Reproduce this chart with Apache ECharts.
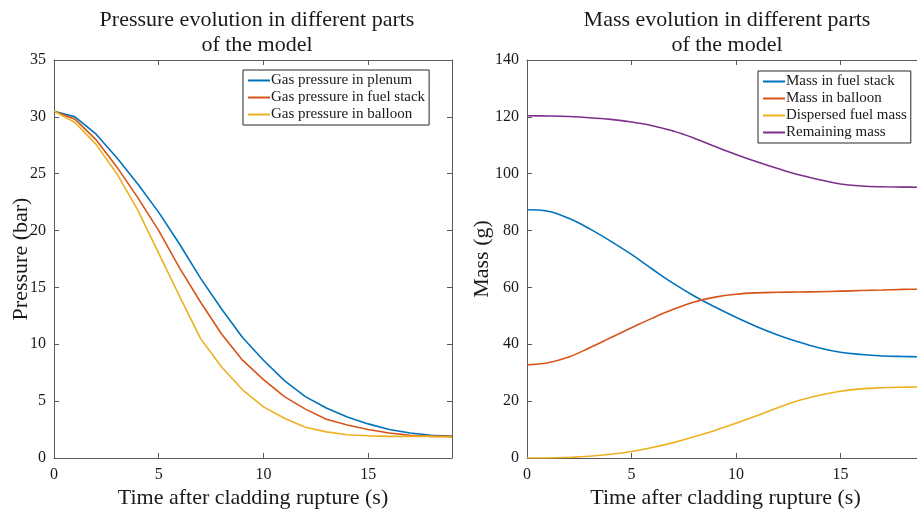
<!DOCTYPE html>
<html>
<head>
<meta charset="utf-8">
<script src="https://cdn.jsdelivr.net/npm/echarts@6/dist/echarts.min.js"></script>
<style>
  html, body { margin: 0; padding: 0; background: #fff; }
  #chart { width: 917px; height: 509px; }
</style>
</head>
<body>
<div id="chart"></div>
<script>
// Time after cladding rupture (s)
const time = [0, 1, 2, 3, 4, 5, 6, 7, 8, 9, 10, 11, 12, 13, 14, 15, 16, 17, 18, 19];

// Pressure (bar)
const pPlenum    = [30.5, 30.0, 28.5, 26.4, 24.1, 21.6, 18.8, 15.8, 13.1, 10.6, 8.6, 6.8, 5.4, 4.4, 3.6, 3.0, 2.5, 2.2, 2.0, 1.9];
const pFuelStack = [30.5, 29.8, 28.0, 25.6, 22.9, 20.0, 16.7, 13.7, 10.9, 8.6, 6.9, 5.4, 4.3, 3.4, 2.9, 2.5, 2.2, 2.0, 1.9, 1.9];
const pBalloon   = [30.5, 29.5, 27.6, 25.0, 21.8, 18.0, 14.2, 10.5, 8.0, 6.0, 4.5, 3.5, 2.7, 2.3, 2.05, 1.95, 1.9, 1.9, 1.9, 1.85];

// Mass (g)
const mFuelStack = [87.3, 86.8, 84.3, 80.6, 76.3, 71.6, 66.4, 61.4, 57.0, 53.1, 49.5, 46.2, 43.3, 40.8, 38.7, 37.2, 36.4, 35.9, 35.7, 35.6];
const mBalloon   = [32.8, 33.5, 35.5, 38.8, 42.3, 45.8, 49.2, 52.3, 54.9, 56.6, 57.6, 58.1, 58.3, 58.4, 58.5, 58.7, 58.9, 59.1, 59.3, 59.4];
const mDispersed = [0, 0.0, 0.2, 0.6, 1.3, 2.3, 3.7, 5.4, 7.5, 9.7, 12.2, 14.9, 17.7, 20.2, 22.1, 23.5, 24.3, 24.7, 24.9, 25.0];
const mRemaining = [120.4, 120.3, 120.1, 119.7, 119.1, 118.2, 116.9, 115.0, 112.5, 109.6, 106.8, 104.2, 101.8, 99.6, 97.9, 96.4, 95.7, 95.4, 95.3, 95.2];

const leftNames  = ['Gas pressure in plenum', 'Gas pressure in fuel stack', 'Gas pressure in balloon'];
const rightNames = ['Mass in fuel stack', 'Mass in balloon', 'Dispersed fuel mass', 'Remaining mass'];

const colors = ['#0072BD', '#D95319', '#EDB120', '#7E2F8E'];
const FONT = '"Liberation Serif", "Times New Roman", serif';
const TEXT = '#1a1a1a';
const FRAME = '#5a5a5a';

const pairs = vals => time.map((t, i) => [t, vals[i]]);

function xAx(grid, top) {
  return {
    type: 'value', gridIndex: grid, position: top ? 'top' : 'bottom',
    min: 0, max: 19, interval: 5,
    name: top ? '' : 'Time after cladding rupture (s)',
    nameLocation: 'middle', nameGap: 29, nameMoveOverlap: false,
    nameTextStyle: { fontFamily: FONT, fontSize: 22, color: TEXT },
    axisLine: { show: true, onZero: false, lineStyle: { color: FRAME, width: 1 } },
    axisTick: { show: true, inside: true, length: 5, lineStyle: { color: FRAME } },
    axisLabel: { show: !top, showMaxLabel: false, margin: 9, fontFamily: FONT, fontSize: 16, color: TEXT },
    splitLine: { show: false }
  };
}

function yAx(grid, right, max, interval, name, gap) {
  return {
    type: 'value', gridIndex: grid, position: right ? 'right' : 'left',
    min: 0, max: max, interval: interval,
    name: right ? '' : name,
    nameLocation: 'middle', nameGap: gap, nameRotate: 90, nameMoveOverlap: false,
    nameTextStyle: { fontFamily: FONT, fontSize: 22, color: TEXT },
    axisLine: { show: true, onZero: false, lineStyle: { color: FRAME, width: 1 } },
    axisTick: { show: true, inside: true, length: 5, lineStyle: { color: FRAME } },
    axisLabel: { show: !right, margin: 8, fontFamily: FONT, fontSize: 16, color: TEXT },
    splitLine: { show: false }
  };
}

function line(name, vals, color, xi, yi, smooth) {
  return {
    type: 'line', name: name, data: pairs(vals),
    xAxisIndex: xi, yAxisIndex: yi,
    showSymbol: false, symbol: 'none',
    smooth: smooth ? 0.4 : false,
    lineStyle: { color: color, width: 1.6 },
    itemStyle: { color: color },
    z: 3
  };
}

function legendBox(names, left, top) {
  return {
    data: names, orient: 'vertical', left: left, top: top,
    icon: 'rect', itemWidth: 22, itemHeight: 2, itemGap: 2,
    padding: [3, 4, 3, 5],
    backgroundColor: '#fff', borderColor: '#262626', borderWidth: 1, borderRadius: 0,
    textStyle: { fontFamily: FONT, fontSize: 15, color: TEXT, padding: [0, 0, 0, -4] },
    selectedMode: false
  };
}

const chart = echarts.init(document.getElementById('chart'), null, { renderer: 'canvas' });

chart.setOption({
  backgroundColor: '#fff',
  animation: false,
  title: [
    { text: 'Pressure evolution in different parts\nof the model', left: 252, top: 3, textAlign: 'center',
      textStyle: { fontFamily: FONT, fontSize: 22, fontWeight: 'normal', color: TEXT, lineHeight: 25 } },
    { text: 'Mass evolution in different parts\nof the model', left: 722, top: 3, textAlign: 'center',
      textStyle: { fontFamily: FONT, fontSize: 22, fontWeight: 'normal', color: TEXT, lineHeight: 25 } }
  ],
  legend: [
    legendBox(leftNames, 243, 70),
    legendBox(rightNames, 758, 71)
  ],
  grid: [
    { left: 54, top: 60, width: 398, height: 398, outerBoundsMode: 'none', containLabel: false },
    { left: 527, top: 60, width: 397, height: 398, outerBoundsMode: 'none', containLabel: false }
  ],
  xAxis: [xAx(0, false), xAx(0, true), xAx(1, false), xAx(1, true)],
  yAxis: [
    yAx(0, false, 35, 5, 'Pressure (bar)', 22),
    yAx(0, true, 35, 5, '', 0),
    yAx(1, false, 140, 20, 'Mass (g)', 34),
    yAx(1, true, 140, 20, '', 0)
  ],
  series: [
    line(leftNames[0], pPlenum, colors[0], 0, 0, false),
    line(leftNames[1], pFuelStack, colors[1], 0, 0, false),
    line(leftNames[2], pBalloon, colors[2], 0, 0, false),
    line(rightNames[0], mFuelStack, colors[0], 2, 2, true),
    line(rightNames[1], mBalloon, colors[1], 2, 2, true),
    line(rightNames[2], mDispersed, colors[2], 2, 2, true),
    line(rightNames[3], mRemaining, colors[3], 2, 2, true)
  ]
});
</script>
</body>
</html>
